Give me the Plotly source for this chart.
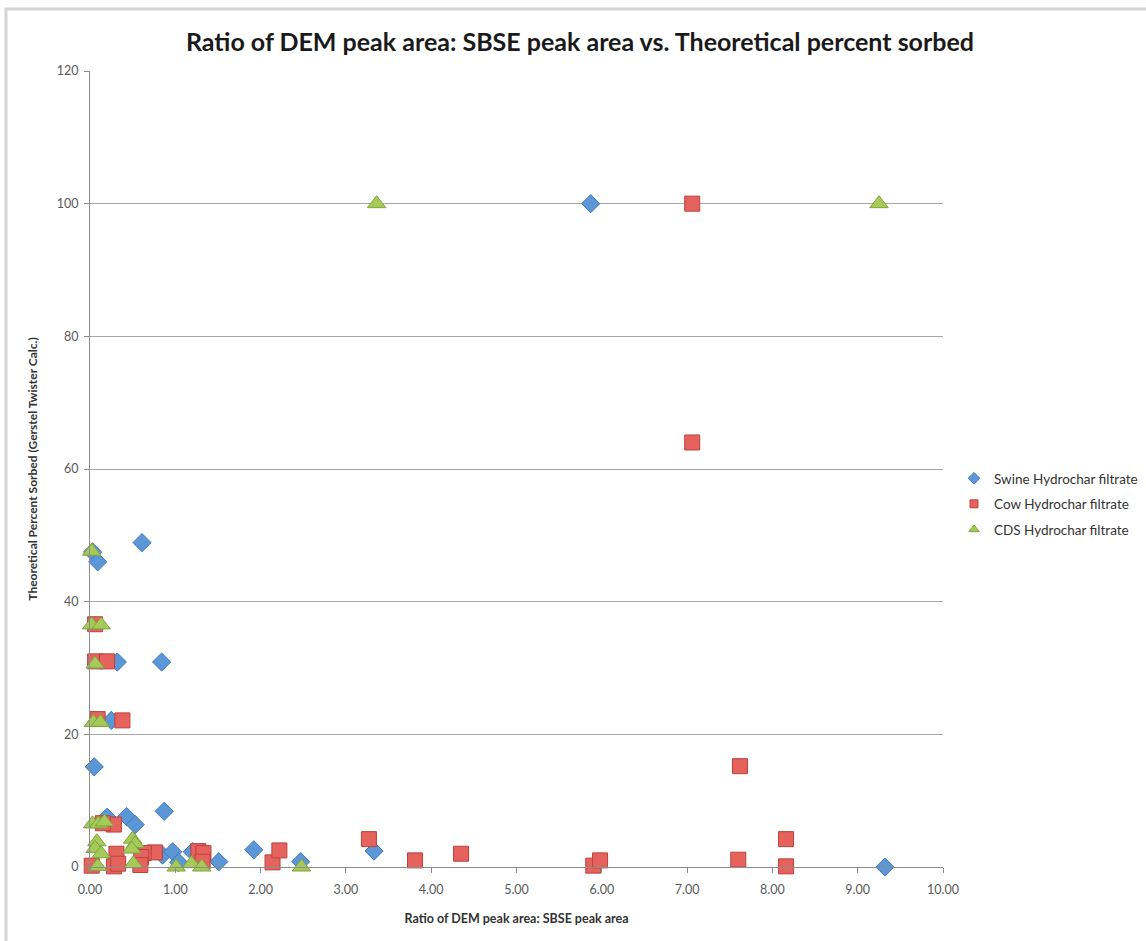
import plotly.graph_objects as go

# Ratio of DEM peak area to SBSE peak area (x) vs. theoretical percent sorbed (y)
swine_x = [5.87, 9.32, 0.61, 0.03, 0.09, 0.32, 0.84, 0.25, 0.05, 0.87, 0.20, 0.43,
           0.53, 0.85, 0.97, 1.04, 1.20, 1.51, 1.92, 2.47, 3.33]
swine_y = [100, 0, 48.9, 47.5, 46.0, 30.9, 30.9, 22.1, 15.1, 8.4, 7.5, 7.6,
           6.4, 1.8, 2.3, 0.7, 2.3, 0.8, 2.6, 0.8, 2.4]

cow_x = [7.06, 7.06, 7.62, 8.16, 8.16, 7.60, 5.90, 5.98, 4.35, 3.81, 3.27, 2.14,
         2.22, 1.27, 1.33, 1.32, 0.76, 0.63, 0.60, 0.59, 0.31, 0.28, 0.33, 0.02,
         0.28, 0.15, 0.38, 0.09, 0.06, 0.20, 0.06]
cow_y = [100, 64, 15.2, 4.2, 0.1, 1.1, 0.2, 1.0, 2.0, 1.0, 4.2, 0.7,
         2.5, 2.4, 2.1, 0.8, 2.2, 2.1, 1.5, 0.3, 2.0, 0.1, 0.5, 0.2,
         6.4, 6.6, 22.1, 22.3, 31.0, 31.0, 36.6]

cds_x = [3.36, 9.25, 0.02, 0.02, 0.13, 0.06, 0.04, 0.12, 0.03, 0.10, 0.17, 0.08,
         0.06, 0.13, 0.09, 0.50, 0.53, 0.49, 0.51, 1.01, 1.19, 1.31, 2.48]
cds_y = [100, 100, 47.6, 36.5, 36.5, 30.6, 21.8, 21.8, 6.5, 6.5, 6.8, 3.8,
         2.8, 2.0, 0.1, 4.2, 3.5, 2.7, 0.5, 0.0, 0.5, 0.0, 0.0]

x_ticks = [0, 1, 2, 3, 4, 5, 6, 7, 8, 9, 10]
y_ticks = [0, 20, 40, 60, 80, 100, 120]

FONT = "Lato, 'Open Sans', sans-serif"

fig = go.Figure()
series = [
    ("Swine Hydrochar filtrate", swine_x, swine_y, "diamond", 14, 9, "#5b97d6", "#3f78b8"),
    ("Cow Hydrochar filtrate", cow_x, cow_y, "square", 15, 8, "#e6625c", "#b9423d"),
    ("CDS Hydrochar filtrate", cds_x, cds_y, "triangle-up", 16, 9, "#a6ca5a", "#7ea33c"),
]
for name, xs, ys, sym, size, key_size, fill, edge in series:
    fig.add_trace(go.Scatter(
        x=xs, y=ys, mode="markers", name=name, legendgroup=name,
        showlegend=False, cliponaxis=False,
        marker=dict(symbol=sym, size=size, color=fill,
                    line=dict(color=edge, width=1)),
    ))
# legend keys with smaller symbols
for name, xs, ys, sym, size, key_size, fill, edge in series:
    fig.add_trace(go.Scatter(
        x=[None], y=[None], mode="markers", name=name, legendgroup=name,
        showlegend=True,
        marker=dict(symbol=sym, size=key_size, color=fill,
                    line=dict(color=edge, width=1)),
    ))

# plot-area pixel geometry used to place the outer frame
L, R, T, B = 90, 943, 71, 867
W, H = 1146, 941


def px(xp):
    return (xp - L) / (R - L)


def py(yp):
    return (B - yp) / (B - T)


fig.add_shape(type="rect", xref="paper", yref="paper",
              x0=px(6), x1=px(W + 20), y0=py(9), y1=py(H + 20),
              line=dict(color="#d4d4d4", width=3), fillcolor="rgba(0,0,0,0)",
              layer="below")

fig.update_layout(
    width=W, height=H,
    margin=dict(l=L, r=W - R, t=T, b=H - B, autoexpand=False),
    paper_bgcolor="white", plot_bgcolor="white",
    font=dict(family=FONT, color="#404040"),
    title=dict(text="<b>Ratio of DEM peak area: SBSE peak area vs. Theoretical percent sorbed</b>",
               x=px(580), xanchor="center", xref="paper",
               y=1 - 42 / H, yanchor="middle",
               font=dict(family=FONT, size=25, color="#1a1a1a")),
    showlegend=True,
    legend=dict(x=px(954), y=py(463), xanchor="left", yanchor="top",
                font=dict(family=FONT, size=13.5, color="#333333"),
                bgcolor="rgba(0,0,0,0)", itemsizing="trace",
                tracegroupgap=5, traceorder="grouped"),
    xaxis=dict(range=[0, 10], tickvals=x_ticks, tickformat=".2f",
               showgrid=False, zeroline=False,
               showline=True, linecolor="#8c8c8c", linewidth=1,
               ticks="outside", ticklen=5, tickcolor="#8c8c8c",
               ticklabelstandoff=6,
               tickfont=dict(family=FONT, size=12.5, color="#595959"),
               title=dict(text="<b>Ratio of DEM peak area: SBSE peak area</b>",
                          font=dict(family=FONT, size=12.5, color="#333333"),
                          standoff=18)),
    yaxis=dict(range=[0, 120], tickvals=y_ticks,
               showgrid=True, gridcolor="#a6a6a6", gridwidth=1,
               zeroline=False,
               showline=True, linecolor="#8c8c8c", linewidth=1,
               ticks="outside", ticklen=5, tickcolor="#8c8c8c",
               ticklabelstandoff=3,
               tickfont=dict(family=FONT, size=12.5, color="#595959"),
               title=dict(text="<b>Theoretical Percent Sorbed (Gerstel Twister Calc.)</b>",
                          font=dict(family=FONT, size=12, color="#333333"),
                          standoff=16)),
)

fig.write_html("out.html")
